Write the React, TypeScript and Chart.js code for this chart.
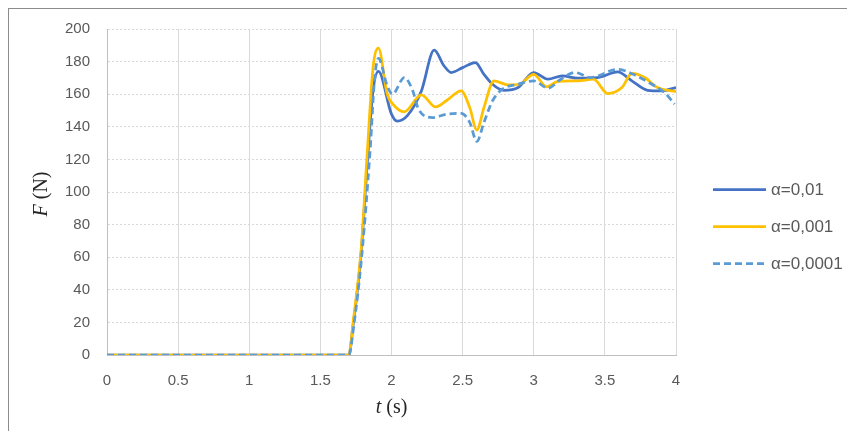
import React, { useEffect, useRef } from "react";
import { Chart, registerables } from "chart.js";

Chart.register(...registerables);

// Series labels
const seriesLabels = ["α=0,01", "α=0,001", "α=0,0001"];

// α=0,01
const tBlue = [0, 1.7, 1.73, 1.786, 1.83, 1.87, 1.908, 2.0, 2.04, 2.11, 2.21, 2.3, 2.37, 2.42, 2.5, 2.59, 2.65, 2.71, 2.79, 2.89, 3.0, 3.1, 3.2, 3.31, 3.45, 3.59, 3.69, 3.8, 3.9, 4.0];
const fBlue = [0, 0, 18, 62, 118, 162, 174, 147.8, 143.5, 146.7, 162, 187, 177.3, 173.3, 176.3, 179.4, 172.2, 166.1, 162.4, 164.1, 173.3, 169.2, 171.2, 169.8, 170.2, 173.7, 168.2, 162.4, 162, 164.1];

// α=0,001
const tYellow = [0, 1.7, 1.73, 1.786, 1.831, 1.87, 1.908, 1.97, 2.02, 2.09, 2.21, 2.31, 2.39, 2.49, 2.55, 2.6, 2.65, 2.72, 2.82, 2.9, 3.0, 3.09, 3.17, 3.31, 3.42, 3.52, 3.62, 3.69, 3.78, 3.87, 4.0];
const fYellow = [0, 0, 20, 64, 126, 176, 188.2, 160, 152.9, 149.2, 159.6, 152.2, 156.3, 162, 151.8, 138, 151.8, 168.2, 165.7, 166.1, 172.2, 164.5, 167.8, 168.2, 169.2, 160.4, 164.1, 172.7, 170.2, 164.1, 161.6];

// α=0,0001
const tDash = [0, 1.7, 1.735, 1.79, 1.85, 1.88, 1.908, 1.97, 2.007, 2.09, 2.15, 2.19, 2.29, 2.39, 2.49, 2.55, 2.6, 2.65, 2.71, 2.78, 2.89, 3.0, 3.1, 3.19, 3.29, 3.4, 3.59, 3.7, 3.83, 3.92, 3.99];
const fDash = [0, 0, 18, 60, 126, 168, 182, 165.1, 160, 170.2, 162, 150.8, 145.7, 147.8, 148.2, 142.7, 131, 142.7, 155.9, 163.1, 166.1, 168.2, 163.7, 169.2, 173.3, 170.2, 175.3, 172.2, 166.1, 161, 153.9];

// Axis ranges / ticks
const xMin = 0;
const xMax = 4;
const xStep = 0.5;
const yMin = 0;
const yMax = 200;
const yStep = 20;

const toXY = (ts: number[], fs: number[]) => ts.map((t, i) => ({ x: t, y: fs[i] }));

const titlesAndLegend = {
  id: "titlesAndLegend",
  afterDraw(chart: any) {
    const ctx = chart.ctx as CanvasRenderingContext2D;
    const area = chart.chartArea;
    ctx.save();
    const serifIt = "italic 20px 'Liberation Serif', 'DejaVu Serif', serif";
    const serif = "20px 'Liberation Serif', 'DejaVu Serif', serif";
    ctx.fillStyle = "#262626";
    ctx.textBaseline = "middle";
    ctx.textAlign = "left";
    {
      ctx.font = serifIt;
      const w1 = ctx.measureText("F").width;
      ctx.font = serif;
      const w2 = ctx.measureText(" (N)").width;
      const total = w1 + w2;
      ctx.save();
      ctx.translate(33, (area.top + area.bottom) / 2 + 2);
      ctx.rotate(-Math.PI / 2);
      ctx.font = serifIt;
      ctx.fillText("F", -total / 2, 0);
      ctx.font = serif;
      ctx.fillText(" (N)", -total / 2 + w1, 0);
      ctx.restore();
    }
    {
      ctx.font = serifIt;
      const w1 = ctx.measureText("t").width;
      ctx.font = serif;
      const w2 = ctx.measureText(" (s)").width;
      const total = w1 + w2;
      const cx = (area.left + area.right) / 2;
      const cy = 399;
      ctx.font = serifIt;
      ctx.fillText("t", cx - total / 2, cy);
      ctx.font = serif;
      ctx.fillText(" (s)", cx - total / 2 + w1, cy);
    }
    // Legend
    const ds = chart.data.datasets;
    const lx0 = 704;
    const lx1 = 757;
    const tx = 762;
    const y0 = 180.5;
    const gap = 37;
    ctx.font = "17px 'Liberation Sans', Arial, sans-serif";
    ctx.textBaseline = "middle";
    for (let i = 0; i < ds.length; i++) {
      const y = y0 + i * gap;
      ctx.save();
      ctx.strokeStyle = ds[i].borderColor;
      ctx.lineWidth = ds[i].borderWidth;
      ctx.setLineDash(ds[i].borderDash || []);
      ctx.beginPath();
      ctx.moveTo(lx0, y);
      ctx.lineTo(lx1, y);
      ctx.stroke();
      ctx.restore();
      ctx.fillStyle = "#595959";
      ctx.fillText(ds[i].label, tx, y + 1);
    }
    ctx.restore();
  },
};

export default function App() {
  const canvasRef = useRef<HTMLCanvasElement | null>(null);

  useEffect(() => {
    if (!canvasRef.current) return;
    const tickFont = { family: "'Liberation Sans', Arial, sans-serif", size: 15 };
    const chart = new Chart(canvasRef.current, {
      type: "line",
      data: {
        datasets: [
          {
            label: seriesLabels[0],
            data: toXY(tBlue, fBlue),
            borderColor: "#4472C4",
            backgroundColor: "#4472C4",
            borderWidth: 2.75,
            pointRadius: 0,
            cubicInterpolationMode: "monotone",
            order: 2,
          },
          {
            label: seriesLabels[1],
            data: toXY(tYellow, fYellow),
            borderColor: "#FFC000",
            backgroundColor: "#FFC000",
            borderWidth: 2.75,
            pointRadius: 0,
            cubicInterpolationMode: "monotone",
            order: 1,
          },
          {
            label: seriesLabels[2],
            data: toXY(tDash, fDash),
            borderColor: "#5B9BD5",
            backgroundColor: "#5B9BD5",
            borderWidth: 2.75,
            borderDash: [7, 4],
            pointRadius: 0,
            cubicInterpolationMode: "monotone",
            order: 0,
          },
        ],
      },
      options: {
        animation: false,
        responsive: true,
        maintainAspectRatio: false,
        layout: { autoPadding: false, padding: { left: 0, right: 171, top: 20, bottom: 0 } },
        plugins: {
          legend: { display: false },
          tooltip: { enabled: false },
        },
        scales: {
          x: {
            type: "linear",
            min: xMin,
            max: xMax,
            ticks: {
              stepSize: xStep,
              color: "#595959",
              font: tickFont,
              padding: 17,
              maxRotation: 0,
              callback: (v: any) => String(Number(v)),
            },
            grid: { color: "#d9d9d9", lineWidth: 1, drawTicks: false },
            border: { color: "#bfbfbf", width: 1 },
            afterFit: (s: any) => {
              s.height = 76;
              s.paddingLeft = 0;
              s.paddingRight = 0;
              s.paddingTop = 0;
              s.paddingBottom = 0;
            },
          },
          y: {
            type: "linear",
            min: yMin,
            max: yMax,
            ticks: {
              stepSize: yStep,
              color: "#595959",
              font: tickFont,
              padding: 17,
              callback: (v: any) => String(Number(v)),
            },
            grid: { color: "#d9d9d9", lineWidth: 1, drawTicks: false },
            border: { color: "#bfbfbf", width: 1, dash: [2, 2] },
            afterFit: (s: any) => {
              s.width = 98;
              s.paddingTop = 0;
              s.paddingBottom = 0;
              s.paddingLeft = 0;
              s.paddingRight = 0;
            },
          },
        },
      },
      plugins: [titlesAndLegend],
    } as any);
    return () => chart.destroy();
  }, []);

  return (
    <div
      style={{
        width: 839,
        height: 423,
        boxSizing: "border-box",
        borderTop: "1px solid #8c8c8c",
        borderLeft: "1px solid #8c8c8c",
        background: "#ffffff",
      }}
    >
      <div style={{ position: "relative", width: 838, height: 422 }}>
        <canvas ref={canvasRef} />
      </div>
    </div>
  );
}
